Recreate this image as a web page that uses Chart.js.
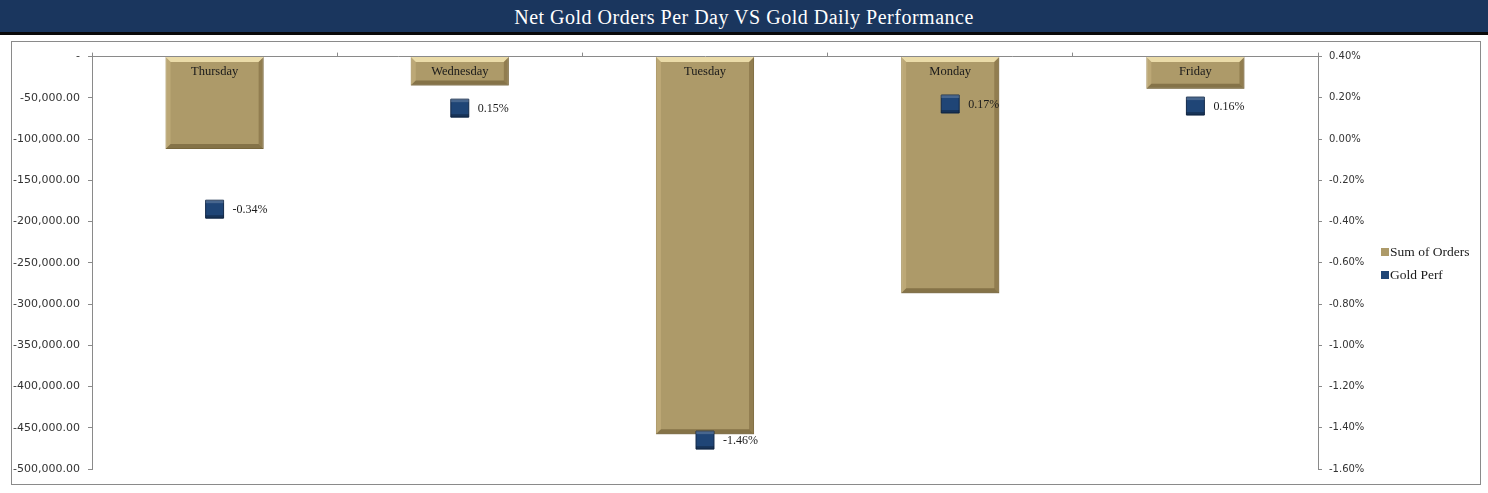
<!DOCTYPE html>
<html>
<head>
<meta charset="utf-8">
<script src="https://cdn.jsdelivr.net/npm/chart.js@4/dist/chart.umd.min.js"></script>
<style>
  html, body { margin: 0; padding: 0; background: #fff; }
  body { width: 1488px; height: 493px; position: relative; overflow: hidden; }
  #title {
    position: absolute; left: 0; top: 0; width: 1488px; height: 32px;
    background: #1a365e; border-bottom: 3px solid #0a0a0a;
    color: #fff; font-family: "Liberation Serif", "DejaVu Serif", serif;
    font-size: 20px; letter-spacing: 0.5px; text-align: center; line-height: 35px;
  }
  #box {
    position: absolute; left: 11px; top: 41px; width: 1468px; height: 442px;
    border: 1px solid #8a8a8a;
  }
  #box canvas { display: block; }
</style>
</head>
<body>
<div id="title">Net Gold Orders Per Day VS Gold Daily Performance</div>
<div id="box"><canvas id="goldChart" width="1468" height="442"></canvas></div>
<script>
// data
const days = ["Thursday", "Wednesday", "Tuesday", "Monday", "Friday"];
const sumOfOrders = [-112000, -35000, -458000, -287000, -39000];
const goldPerf = [-0.34, 0.15, -1.46, 0.17, 0.16]; // percent

const ordersMin = -500000, ordersMax = 0, ordersStep = 50000;
const perfMin = -1.6, perfMax = 0.4, perfStep = 0.2;

const GOLD = '#ad9a69';
const NAVY = '#1f4576';

(function(){
  const canvas = document.getElementById('goldChart');
  const ctx = canvas.getContext('2d');

  // bevel look on the bars + category names at the zero line + point labels + legend
  const decor = {
    id: 'decor',
    afterDatasetDraw(chart, args) {
      const c = chart.ctx;
      if (args.index === 0) {
        const meta = chart.getDatasetMeta(0);
        meta.data.forEach(bar => {
          const l = bar.x - bar.width / 2, r = bar.x + bar.width / 2;
          const t = Math.min(bar.y, bar.base), b = Math.max(bar.y, bar.base);
          const e = 5;
          c.save();
          c.fillStyle = 'rgba(255,240,190,0.75)';
          c.beginPath(); c.moveTo(l, t); c.lineTo(r, t); c.lineTo(r - e, t + e); c.lineTo(l + e, t + e); c.closePath(); c.fill();
          c.fillStyle = 'rgba(200,180,130,0.55)';
          c.beginPath(); c.moveTo(l, t); c.lineTo(l + e, t + e); c.lineTo(l + e, b - e); c.lineTo(l, b); c.closePath(); c.fill();
          c.fillStyle = 'rgba(110,92,50,0.45)';
          c.beginPath(); c.moveTo(r, t); c.lineTo(r - e, t + e); c.lineTo(r - e, b - e); c.lineTo(r, b); c.closePath(); c.fill();
          c.fillStyle = 'rgba(100,84,45,0.55)';
          c.beginPath(); c.moveTo(l, b); c.lineTo(l + e, b - e); c.lineTo(r - e, b - e); c.lineTo(r, b); c.closePath(); c.fill();
          c.restore();
        });
        // day names just below the zero line
        const x = chart.scales.x, y = chart.scales.y;
        c.save();
        c.font = '12.5px "Liberation Serif", serif';
        c.fillStyle = '#1a1a1a';
        c.textAlign = 'center'; c.textBaseline = 'middle';
        days.forEach((d, i) => c.fillText(d, x.getPixelForValue(i), y.getPixelForValue(0) + 15));
        c.restore();
      }
      if (args.index === 1) {
        const meta = chart.getDatasetMeta(1);
        c.save();
        c.font = '12px "Liberation Serif", serif';
        c.textAlign = 'left'; c.textBaseline = 'middle';
        meta.data.forEach((pt, i) => {
          c.fillStyle = 'rgba(255,255,255,0.18)';
          c.fillRect(pt.x - 9, pt.y - 9, 18, 3);
          c.fillStyle = 'rgba(0,0,0,0.25)';
          c.fillRect(pt.x - 9, pt.y + 6, 18, 3);
          c.fillStyle = '#1a1a1a';
          c.fillText(goldPerf[i].toFixed(2) + '%', pt.x + 18, pt.y + 1);
        });
        c.restore();
      }
    },
    afterDraw(chart) {
      const c = chart.ctx;
      const lx = chart.chartArea.right + 63, ly = [210, 233];
      const items = [['Sum of Orders', GOLD], ['Gold Perf', NAVY]];
      c.save();
      c.font = '13.5px "Liberation Serif", serif';
      c.textAlign = 'left'; c.textBaseline = 'middle';
      items.forEach((it, i) => {
        c.fillStyle = it[1];
        c.fillRect(lx, ly[i] - 4, 8, 8);
        c.fillStyle = '#1a1a1a';
        c.fillText(it[0], lx + 9, ly[i]);
      });
      c.restore();
    }
  };

  new Chart(ctx, {
    type: 'bar',
    data: {
      labels: days,
      datasets: [
        {
          type: 'bar',
          label: 'Sum of Orders',
          data: sumOfOrders,
          yAxisID: 'y',
          backgroundColor: GOLD,
          borderColor: '#8e7c4e',
          borderWidth: 1,
          barPercentage: 0.8,
          categoryPercentage: 0.5,
          order: 2
        },
        {
          type: 'line',
          label: 'Gold Perf',
          data: goldPerf,
          yAxisID: 'y1',
          showLine: false,
          pointStyle: 'rect',
          pointRadius: 12.7,
          pointHoverRadius: 12.7,
          pointBackgroundColor: NAVY,
          pointBorderColor: '#132a4a',
          pointBorderWidth: 1,
          order: 1
        }
      ]
    },
    options: {
      responsive: false,
      animation: false,
      layout: { padding: { top: 14, bottom: 15, left: 0, right: 0 } },
      plugins: { legend: { display: false }, tooltip: { enabled: false } },
      scales: {
        x: {
          position: 'top',
          offset: true,
          grid: { display: true, drawOnChartArea: false, drawTicks: true, tickLength: 4, color: '#8a8a8a', offset: true },
          border: { display: true, color: '#8a8a8a' },
          ticks: { display: false },
          afterFit(s) { s.height = 0; }
        },
        y: {
          position: 'left',
          min: ordersMin, max: ordersMax,
          grid: { drawOnChartArea: false, tickLength: 4, color: '#8a8a8a' },
          border: { color: '#8a8a8a' },
          ticks: {
            stepSize: ordersStep,
            padding: 8,
            color: '#333',
            font: { family: '"DejaVu Sans", sans-serif', size: 11 },
            callback: v => v === 0 ? '-' : v.toLocaleString('en-US', { minimumFractionDigits: 2, maximumFractionDigits: 2 })
          },
          afterFit(s) { s.width = 80; }
        },
        y1: {
          position: 'right',
          min: perfMin, max: perfMax,
          grid: { drawOnChartArea: false, tickLength: 4, color: '#8a8a8a' },
          border: { color: '#8a8a8a' },
          ticks: {
            stepSize: perfStep,
            padding: 7,
            color: '#333',
            font: { family: '"DejaVu Sans", sans-serif', size: 10 },
            callback: v => (Math.abs(v) < 1e-9 ? 0 : v).toFixed(2) + '%'
          },
          afterFit(s) { s.width = 162; }
        }
      }
    },
    plugins: [decor]
  });
})();
</script>
</body>
</html>
